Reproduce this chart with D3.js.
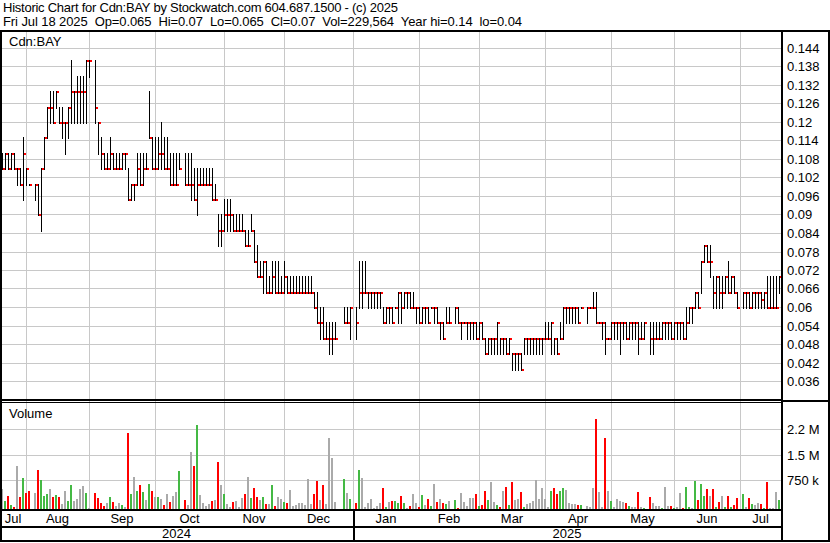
<!DOCTYPE html>
<html><head><meta charset="utf-8">
<script src="https://cdnjs.cloudflare.com/ajax/libs/d3/7.8.5/d3.min.js"></script>
<style>
body{margin:0;background:#fff;}
svg{display:block;}
text{font-family:"Liberation Sans",Arial,sans-serif;font-size:13px;fill:#000;}
</style>
</head><body>
<svg id="c" width="830" height="543"></svg>
<script>
const header1 = "Historic Chart for Cdn:BAY by Stockwatch.com 604.687.1500 - (c) 2025";
const header2 = "Fri Jul 18 2025  Op=0.065  Hi=0.07  Lo=0.065  Cl=0.07  Vol=229,564  Year hi=0.14  lo=0.04";
const symbolLabel = "Cdn:BAY";
const volumeLabel = "Volume";

// daily bars, one slot per weekday (null = no trading / holiday)
const hi = [
.11,.11,.11,.11,.11,.105,.105,.115,.105,.10,
null,.10,.10,.105,.115,.125,.13,.13,.13,.125,
.125,.12,.125,.14,.13,.135,.135,.135,.14,.14,
null,.14,.12,.115,.11,.11,.115,.11,.11,.11,
.11,.11,.105,.10,.10,.11,.11,.11,.11,.13,
.115,.115,.115,.12,.115,.115,.11,.11,.11,.11,
null,.11,.11,.11,.105,.105,.105,.105,.105,.105,
.105,.10,.09,.09,.095,.095,.095,.09,.09,.09,
.09,.085,.085,.09,.085,.08,.075,.075,.075,.07,
.075,.075,.075,.07,.075,.07,.07,.07,.07,.07,
.07,.07,.07,.07,.065,.065,.06,.06,.055,.055,
.055,.055,null,null,.06,.06,.06,null,.06,.075,
.075,.075,.065,.065,.065,.065,.065,.06,.06,.06,
.06,.06,.065,.065,.065,.065,.065,.065,.06,.06,
.06,.06,.06,.06,.06,.06,.055,.055,.06,.06,
null,.06,.06,.055,.055,.055,.055,.055,.055,.055,
.055,.05,.05,.05,.05,.055,.05,.05,.05,.05,
.045,.045,.045,.045,.05,.05,.05,.05,.05,.05,
.05,.055,.055,.055,.05,.05,.055,.06,.06,.06,
.06,.06,.06,.06,null,.06,.06,.065,.065,.055,
.055,.055,.05,.055,.055,.055,.055,.055,.055,.055,
.055,.055,.055,.055,.055,null,.055,.055,.055,.055,
.055,.055,.055,.055,.055,.055,.055,.055,.06,.06,
.06,.065,.065,.075,.08,.08,.08,.07,.07,.07,
.07,.07,.075,.07,.07,.065,null,.065,.065,.065,
.065,.065,.065,.065,.065,.07,.07,.07,.07,.07
];
const lo = [
.105,.105,.105,.105,.105,.10,.10,.095,.10,.10,
null,.095,.09,.085,.105,.115,.12,.12,.125,.12,
.115,.11,.115,.12,.12,.12,.12,.12,.12,.135,
null,.12,.11,.105,.105,.105,.105,.105,.105,.105,
.105,.105,.095,.095,.095,.10,.10,.10,.105,.115,
.105,.105,.105,.105,.105,.105,.10,.10,.10,.105,
null,.10,.10,.095,.095,.09,.10,.10,.10,.10,
.095,.095,.08,.08,.085,.085,.085,.085,.085,.085,
.085,.08,.08,.085,.075,.07,.07,.065,.065,.065,
.065,.065,.065,.065,.065,.065,.065,.065,.065,.065,
.065,.065,.065,.065,.06,.055,.05,.05,.05,.045,
.045,.05,null,null,.055,.055,.05,null,.05,.06,
.06,.065,.06,.06,.06,.06,.06,.055,.055,.055,
.055,.06,.055,.055,.06,.06,.06,.06,.055,.055,
.055,.055,.055,.06,.055,.055,.05,.05,.055,.055,
null,.055,.055,.05,.055,.05,.05,.05,.05,.05,
.05,.045,.045,.045,.045,.045,.045,.045,.045,.045,
.04,.04,.04,.04,.045,.045,.045,.045,.045,.045,
.045,.05,.05,.045,.045,.045,.05,.05,.055,.055,
.055,.055,.055,.06,null,.055,.06,.06,.055,.055,
.05,.045,.05,.05,.05,.05,.045,.05,.05,.05,
.05,.05,.045,.05,.05,null,.045,.045,.05,.05,
.05,.05,.05,.05,.05,.05,.05,.05,.05,.055,
.055,.06,.06,.065,.075,.075,.07,.06,.06,.06,
.06,.065,.065,.065,.065,.06,null,.06,.06,.06,
.06,.06,.06,.06,.06,.06,.06,.06,.06,.065
];
const cl = [
.105,.11,.105,.11,.105,.105,.10,.11,.105,.10,
null,.10,.09,.105,.115,.125,.125,.12,.13,.12,
.12,.12,.125,.13,.13,.13,.13,.13,.14,.14,
null,.125,.12,.11,.105,.105,.11,.105,.105,.105,
.11,.11,.095,.10,.10,.105,.10,.105,.105,.115,
.105,.105,.11,.11,.105,.105,.10,.10,.10,.105,
null,.10,.10,.10,.095,.10,.10,.10,.10,.10,
.095,.095,.085,.085,.09,.09,.09,.085,.085,.085,
.085,.08,.08,.085,.075,.07,.07,.075,.065,.065,
.07,.065,.065,.065,.07,.065,.065,.065,.065,.065,
.065,.065,.065,.065,.06,.055,.055,.05,.05,.05,
.05,.05,null,null,.055,.055,.06,null,.055,.065,
.065,.065,.065,.065,.065,.065,.065,.055,.06,.06,
.055,.06,.065,.06,.065,.065,.06,.06,.06,.055,
.06,.06,.055,.06,.06,.055,.055,.05,.055,.055,
null,.06,.055,.055,.055,.055,.055,.055,.05,.055,
.05,.045,.05,.05,.05,.055,.05,.05,.045,.05,
.045,.045,.045,.04,.05,.05,.05,.05,.05,.05,
.05,.05,.05,.055,.05,.045,.05,.06,.06,.06,
.06,.06,.055,.06,null,.06,.06,.06,.055,.055,
.055,.05,.05,.055,.055,.055,.055,.055,.05,.055,
.055,.055,.05,.05,.055,null,.05,.05,.05,.05,
.055,.055,.055,.05,.055,.055,.055,.05,.055,.06,
.06,.065,.06,.075,.08,.075,.075,.065,.07,.065,
.065,.07,.065,.07,.065,.06,null,.065,.065,.06,
.065,.065,.065,.0625,.065,.06,.06,.06,.06,.07
];
const vol = [
509000,207000,336000,103000,52000,1162000,310000,809000,414000,466000,
null,414000,1044000,750000,336000,388000,517000,310000,362000,310000,
129000,466000,207000,621000,207000,259000,517000,595000,414000,17000,
null,414000,284000,155000,78000,155000,310000,181000,78000,155000,
103000,52000,2132000,388000,838000,466000,621000,440000,233000,647000,
466000,310000,310000,259000,103000,388000,181000,336000,440000,1015000,
null,233000,103000,1574000,1162000,2368000,362000,155000,78000,129000,
207000,233000,1279000,621000,388000,129000,52000,181000,207000,52000,
284000,388000,838000,284000,543000,310000,233000,310000,129000,129000,
621000,78000,310000,259000,181000,155000,491000,78000,103000,155000,
155000,103000,779000,129000,388000,724000,233000,621000,129000,1985000,
1397000,181000,null,null,779000,414000,259000,null,155000,1044000,
809000,52000,155000,259000,26000,78000,155000,543000,52000,181000,
207000,207000,155000,336000,155000,26000,78000,388000,155000,52000,
362000,103000,259000,78000,647000,181000,259000,155000,129000,207000,
null,233000,17000,414000,181000,78000,284000,284000,388000,78000,
103000,466000,233000,698000,181000,103000,52000,466000,569000,103000,
698000,233000,259000,440000,52000,129000,155000,207000,750000,259000,
543000,259000,52000,466000,543000,388000,466000,543000,491000,155000,
129000,129000,103000,103000,null,78000,52000,543000,2544000,440000,
52000,1985000,466000,207000,52000,259000,207000,181000,155000,78000,
52000,52000,440000,52000,26000,null,310000,155000,78000,78000,
26000,569000,78000,78000,26000,52000,414000,26000,569000,52000,
26000,724000,233000,647000,336000,517000,336000,517000,52000,181000,
336000,52000,336000,52000,103000,284000,null,388000,52000,284000,
129000,103000,155000,129000,26000,698000,26000,26000,440000,229564
];

const priceTicks = [0.036,0.042,0.048,0.054,0.06,0.066,0.072,0.078,0.084,0.09,0.096,0.102,0.108,0.114,0.12,0.126,0.132,0.138,0.144];
const volTicks = [750000,1500000,2250000];
const volTickLabels = ["750 k","1.5 M","2.2 M"];
const monthLabels = ["Jul","Aug","Sep","Oct","Nov","Dec","Jan","Feb","Mar","Apr","May","Jun","Jul"];
const monthStarts = [8,29,51,74,94,117,139,159,181,203,224,246]; // slot of the 1st of each month
const yearLabels = ["2024","2025"];
const yearStart = 117;

const svg = d3.select("#c");
const N = hi.length;
const W = 830, H = 543;
const plotL = 2, plotR = 781;
const x = d3.scaleLinear().domain([0, N - 1]).range([2, 779]);
const y = d3.scaleLinear().domain([0.036, 0.144]).range([381, 48]);
const yv = d3.scaleLinear().domain([0, 750000, 2250000]).range([509, 480, 429]);
const px = i => Math.round(x(i));

const bars = d3.range(N).filter(i => hi[i] != null).map(i => ({i, h: hi[i], l: lo[i], c: cl[i], v: vol[i]}));
let prev = null;
bars.forEach(b => { b.dir = (prev == null || b.c === prev) ? 0 : (b.c > prev ? 1 : -1); prev = b.c; });
const volColor = d => d.dir > 0 ? "#44b944" : d.dir < 0 ? "#ff0000" : "#aaaaaa";

svg.append("rect").attr("width", W).attr("height", H).attr("fill", "#fff");

// grid
const grid = svg.append("g").attr("stroke", "#c8c8c8").attr("stroke-width", 1);
grid.selectAll(".hp").data(priceTicks).join("line")
  .attr("x1", plotL).attr("x2", plotR)
  .attr("y1", d => Math.round(y(d)) + 0.5).attr("y2", d => Math.round(y(d)) + 0.5);
grid.selectAll(".hv").data(volTicks).join("line")
  .attr("x1", plotL).attr("x2", plotR)
  .attr("y1", d => Math.round(yv(d)) + 0.5).attr("y2", d => Math.round(yv(d)) + 0.5);
grid.selectAll(".vm").data(monthStarts).join("line")
  .attr("x1", d => px(d) + 0.5).attr("x2", d => px(d) + 0.5)
  .attr("y1", 32).attr("y2", 509);

// volume bars
svg.append("g").selectAll("rect").data(bars.filter(b => b.v != null)).join("rect")
  .attr("x", d => px(d.i) - 1).attr("width", 2)
  .attr("y", d => Math.round(yv(d.v)))
  .attr("height", d => Math.max(1, 509 - Math.round(yv(d.v))))
  .attr("fill", volColor);

// price bars
svg.append("g").selectAll("rect").data(bars).join("rect")
  .attr("x", d => px(d.i)).attr("width", 1)
  .attr("y", d => Math.round(y(d.h)))
  .attr("height", d => Math.round(y(d.l)) - Math.round(y(d.h)) + 2)
  .attr("fill", "#000");
svg.append("g").selectAll("rect").data(bars).join("rect")
  .attr("x", d => px(d.i) + 1).attr("width", 2)
  .attr("y", d => Math.round(y(d.c))).attr("height", 2)
  .attr("fill", "#ff0000");

// frame lines
const frame = svg.append("g").attr("fill", "#000");
const hline = (x0, x1, yy, t) => frame.append("rect").attr("x", x0).attr("y", yy).attr("width", x1 - x0).attr("height", t);
const vline = (xx, y0, y1, t) => frame.append("rect").attr("x", xx).attr("y", y0).attr("width", t).attr("height", y1 - y0);
hline(0, W, 30, 2);          // top
hline(0, W, 540, 2);         // bottom
vline(0, 30, 542, 2);        // left
vline(828, 30, 542, 2);      // right
vline(781, 30, 542, 2);      // axis divider
hline(0, 781, 399, 2);       // panel separator
hline(0, 781, 402, 1);
hline(781, W, 400, 2);
hline(0, 783, 509, 2);       // time axis
hline(0, 783, 526, 2);       // year row
vline(Math.round(x(yearStart)), 509, 542, 2);

// texts
svg.append("text").attr("x", 3).attr("y", 12).style("white-space", "pre")
  .attr("textLength", 395).attr("lengthAdjust", "spacing").text(header1);
svg.append("text").attr("x", 3).attr("y", 26).style("white-space", "pre")
  .attr("textLength", 519).attr("lengthAdjust", "spacing").text(header2);
svg.append("text").attr("x", 9).attr("y", 46).text(symbolLabel);
svg.append("text").attr("x", 9).attr("y", 418).text(volumeLabel);

svg.append("g").selectAll("text").data(priceTicks).join("text")
  .attr("x", 787).attr("y", d => Math.round(y(d)) + 5)
  .text(d => String(+d.toFixed(3)));
svg.append("g").selectAll("text").data(volTicks).join("text")
  .attr("x", 787).attr("y", (d, i) => Math.round(yv(d)) + 5)
  .text((d, i) => volTickLabels[i]);

const bounds = [0, ...monthStarts.map(m => px(m)), plotR];
svg.append("g").selectAll("text").data(monthLabels).join("text")
  .attr("x", (d, i) => (bounds[i] + bounds[i + 1]) / 2).attr("y", 523)
  .attr("text-anchor", "middle").text(d => d);
const yb = [0, Math.round(x(yearStart)), plotR];
svg.append("g").selectAll("text").data(yearLabels).join("text")
  .attr("x", (d, i) => (yb[i] + yb[i + 1]) / 2).attr("y", 538)
  .attr("text-anchor", "middle").text(d => d);
</script>
</body></html>
